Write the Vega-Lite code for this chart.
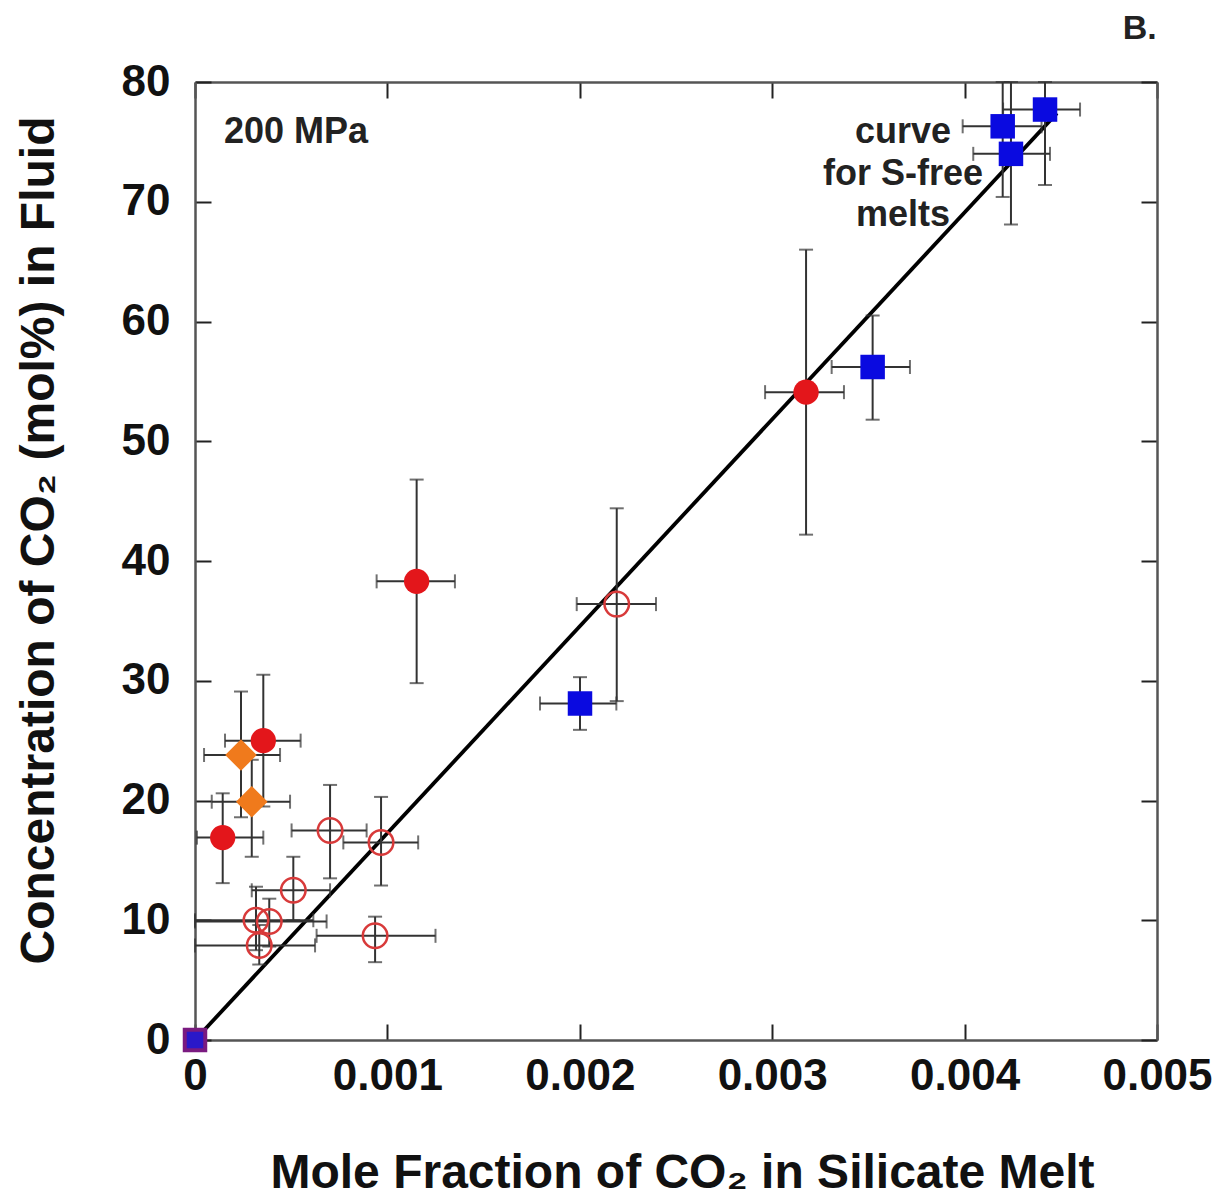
{
  "$schema": "https://vega.github.io/schema/vega-lite/v6.json",
  "autosize": {"type": "none"},
  "width": 962,
  "height": 958,
  "padding": {"left": 195, "top": 82, "right": 64, "bottom": 160},
  "background": "white",
  "config": {
    "view": {"stroke": null},
    "font": "Liberation Sans",
    "axis": {
      "grid": false,
      "domainColor": "#555555",
      "domainWidth": 2.5,
      "tickColor": "#222222",
      "tickWidth": 2,
      "tickSize": -16,
      "labelFlush": false,
      "labelFont": "Liberation Sans",
      "labelFontWeight": "bold",
      "labelFontSize": 44,
      "labelColor": "#111111",
      "titleFont": "Liberation Sans",
      "titleFontWeight": "bold",
      "titleFontSize": 48,
      "titleColor": "#111111"
    }
  },
  "datasets": {
    "pts": [
      {"type": "filled", "x": 0.000144, "y": 16.9, "xlo": 0.00001, "xhi": 0.000355, "ylo": 13.1, "yhi": 20.6},
      {"type": "filled", "x": 0.000355, "y": 25.0, "xlo": 0.000156, "xhi": 0.000549, "ylo": 19.5, "yhi": 30.5},
      {"type": "filled", "x": 0.001152, "y": 38.3, "xlo": 0.000944, "xhi": 0.001351, "ylo": 29.8, "yhi": 46.8},
      {"type": "filled", "x": 0.003176, "y": 54.1, "xlo": 0.002963, "xhi": 0.003373, "ylo": 42.2, "yhi": 66.0},
      {"type": "diamond", "x": 0.000239, "y": 23.8, "xlo": 0.000047, "xhi": 0.000442, "ylo": 18.6, "yhi": 29.1},
      {"type": "diamond", "x": 0.000295, "y": 19.9, "xlo": 0.000087, "xhi": 0.000494, "ylo": 15.3, "yhi": 23.4},
      {"type": "open", "x": 0.000702, "y": 17.5, "xlo": 0.000502, "xhi": 0.000892, "ylo": 13.5, "yhi": 21.3},
      {"type": "open", "x": 0.000967, "y": 16.5, "xlo": 0.000771, "xhi": 0.00116, "ylo": 12.9, "yhi": 20.3},
      {"type": "open", "x": 0.000511, "y": 12.5, "xlo": 0.000295, "xhi": 0.000702, "ylo": 10.0, "yhi": 15.3},
      {"type": "open", "x": 0.000317, "y": 10.0, "xlo": 0.0, "xhi": 0.000615, "ylo": 7.5, "yhi": 12.8},
      {"type": "open", "x": 0.000386, "y": 9.9, "xlo": 0.0, "xhi": 0.000684, "ylo": 7.8, "yhi": 11.8},
      {"type": "open", "x": 0.000334, "y": 7.9, "xlo": 0.0, "xhi": 0.000624, "ylo": 6.3, "yhi": 9.6},
      {"type": "open", "x": 0.000936, "y": 8.7, "xlo": 0.000632, "xhi": 0.00125, "ylo": 6.5, "yhi": 10.3},
      {"type": "open", "x": 0.002192, "y": 36.4, "xlo": 0.001984, "xhi": 0.002396, "ylo": 28.3, "yhi": 44.4},
      {"type": "square", "x": 0.002001, "y": 28.1, "xlo": 0.001793, "xhi": 0.00219, "ylo": 25.9, "yhi": 30.3},
      {"type": "square", "x": 0.003522, "y": 56.2, "xlo": 0.003309, "xhi": 0.003716, "ylo": 51.8, "yhi": 60.5},
      {"type": "square", "x": 0.004198, "y": 76.3, "xlo": 0.00399, "xhi": 0.0044, "ylo": 70.4, "yhi": 80.0},
      {"type": "square", "x": 0.004418, "y": 77.7, "xlo": 0.0042, "xhi": 0.0046, "ylo": 71.4, "yhi": 80.0},
      {"type": "square", "x": 0.004241, "y": 74.0, "xlo": 0.004045, "xhi": 0.004444, "ylo": 68.1, "yhi": 80.0}
    ],
    "fit": [
      {"x": 0.0, "y": 0.0},
      {"x": 0.00448, "y": 77.4}
    ],
    "labels": [
      {"text": "200 MPa", "x": 0.000525, "y": 75.8, "size": 36},
      {"text": "curve", "x": 0.00368, "y": 75.8, "size": 36},
      {"text": "for S-free", "x": 0.00368, "y": 72.3, "size": 36},
      {"text": "melts", "x": 0.00368, "y": 68.9, "size": 36},
      {"text": "B.", "x": 0.00491, "y": 84.4, "size": 34}
    ]
  },
  "resolve": {"axis": {"x": "independent", "y": "independent"}},
  "layer": [
    {
      "layer": [
        {
          "data": {"name": "fit"},
          "mark": {"type": "line", "color": "#000000", "strokeWidth": 3.8},
          "encoding": {
            "x": {"field": "x", "type": "quantitative",
                  "title": "Mole Fraction of CO₂ in Silicate Melt",
                  "scale": {"domain": [0, 0.005], "nice": false, "zero": false},
                  "axis": {"orient": "bottom", "values": [0, 0.001, 0.002, 0.003, 0.004, 0.005], "format": ".3~f",
                           "labelPadding": 30, "titlePadding": 51, "titleX": 487}},
            "y": {"field": "y", "type": "quantitative",
                  "title": "Concentration of CO₂ (mol%) in Fluid",
                  "scale": {"domain": [0, 80], "nice": false, "zero": false},
                  "axis": {"orient": "left", "values": [0, 10, 20, 30, 40, 50, 60, 70, 80],
                           "labelPadding": 41, "titlePadding": 58, "titleY": 458}}
          }
        },
        {
          "data": {"name": "pts"},
          "mark": {"type": "errorbar", "ticks": true, "size": 14, "thickness": 2, "color": "#333333"},
          "encoding": {
            "x": {"field": "xlo", "type": "quantitative", "title": "Mole Fraction of CO₂ in Silicate Melt"},
            "x2": {"field": "xhi"},
            "y": {"field": "y", "type": "quantitative", "title": "Concentration of CO₂ (mol%) in Fluid"}
          }
        },
        {
          "data": {"name": "pts"},
          "mark": {"type": "errorbar", "ticks": true, "size": 14, "thickness": 2, "color": "#333333"},
          "encoding": {
            "y": {"field": "ylo", "type": "quantitative", "title": "Concentration of CO₂ (mol%) in Fluid"},
            "y2": {"field": "yhi"},
            "x": {"field": "x", "type": "quantitative", "title": "Mole Fraction of CO₂ in Silicate Melt"}
          }
        },
        {
          "data": {"name": "pts"},
          "transform": [{"filter": "datum.type === 'open'"}],
          "mark": {"type": "point", "shape": "circle", "filled": false, "stroke": "#d83a3a", "strokeWidth": 2.5, "size": 600, "opacity": 1},
          "encoding": {
            "x": {"field": "x", "type": "quantitative", "title": "Mole Fraction of CO₂ in Silicate Melt"},
            "y": {"field": "y", "type": "quantitative", "title": "Concentration of CO₂ (mol%) in Fluid"}
          }
        },
        {
          "data": {"name": "pts"},
          "transform": [{"filter": "datum.type === 'filled'"}],
          "mark": {"type": "point", "shape": "circle", "filled": true, "color": "#e3161b", "size": 640, "opacity": 1},
          "encoding": {
            "x": {"field": "x", "type": "quantitative", "title": "Mole Fraction of CO₂ in Silicate Melt"},
            "y": {"field": "y", "type": "quantitative", "title": "Concentration of CO₂ (mol%) in Fluid"}
          }
        },
        {
          "data": {"name": "pts"},
          "transform": [{"filter": "datum.type === 'diamond'"}],
          "mark": {"type": "point", "shape": "diamond", "filled": true, "color": "#f07a1c", "size": 1000, "opacity": 1},
          "encoding": {
            "x": {"field": "x", "type": "quantitative", "title": "Mole Fraction of CO₂ in Silicate Melt"},
            "y": {"field": "y", "type": "quantitative", "title": "Concentration of CO₂ (mol%) in Fluid"}
          }
        },
        {
          "data": {"name": "pts"},
          "transform": [{"filter": "datum.type === 'square'"}],
          "mark": {"type": "point", "shape": "square", "filled": true, "color": "#0a0ae0", "size": 600, "opacity": 1},
          "encoding": {
            "x": {"field": "x", "type": "quantitative", "title": "Mole Fraction of CO₂ in Silicate Melt"},
            "y": {"field": "y", "type": "quantitative", "title": "Concentration of CO₂ (mol%) in Fluid"}
          }
        },
        {
          "data": {"values": [{"x": 0, "y": 0}]},
          "mark": {"type": "point", "shape": "square", "filled": true, "fill": "#2a18c8", "stroke": "#7a1a80", "strokeWidth": 4, "size": 420, "opacity": 1, "clip": false},
          "encoding": {
            "x": {"field": "x", "type": "quantitative", "title": "Mole Fraction of CO₂ in Silicate Melt"},
            "y": {"field": "y", "type": "quantitative", "title": "Concentration of CO₂ (mol%) in Fluid"}
          }
        },
        {
          "data": {"name": "labels"},
          "mark": {"type": "text", "font": "Liberation Sans", "fontWeight": "bold", "baseline": "middle", "align": "center", "color": "#222222"},
          "encoding": {
            "x": {"field": "x", "type": "quantitative", "title": "Mole Fraction of CO₂ in Silicate Melt"},
            "y": {"field": "y", "type": "quantitative", "title": "Concentration of CO₂ (mol%) in Fluid"},
            "text": {"field": "text"},
            "size": {"field": "size", "type": "quantitative", "scale": null}
          }
        }
      ]
    },
    {
      "data": {"name": "fit"},
      "mark": {"type": "point", "opacity": 0},
      "encoding": {
        "x": {"field": "x", "type": "quantitative",
              "axis": {"orient": "top", "values": [0, 0.001, 0.002, 0.003, 0.004, 0.005], "labels": false, "title": null}},
        "y": {"field": "y", "type": "quantitative",
              "axis": {"orient": "right", "values": [0, 10, 20, 30, 40, 50, 60, 70, 80], "labels": false, "title": null}}
      }
    }
  ]
}
